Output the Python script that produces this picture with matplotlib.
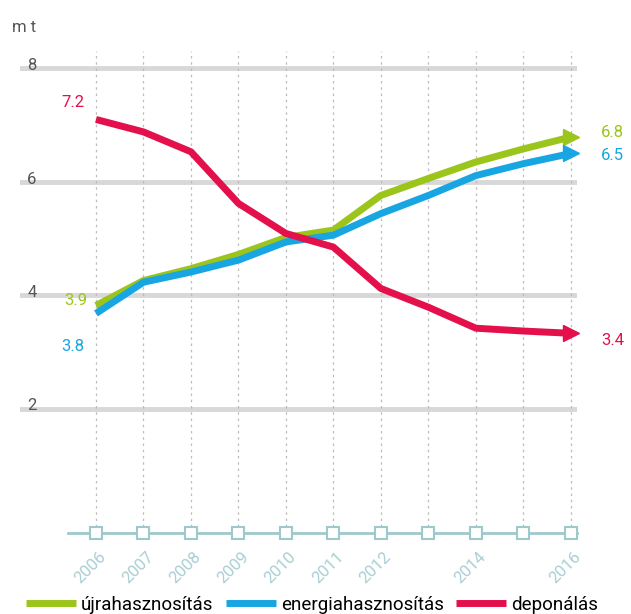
import numpy as np
import matplotlib.pyplot as plt

plt.rcParams['font.family'] = ['Roboto', 'DejaVu Sans']

years = [2006, 2007, 2008, 2009, 2010, 2011, 2012, 2013, 2014, 2015, 2016]
ujra = [3.82, 4.26, 4.47, 4.72, 5.02, 5.15, 5.76, 6.06, 6.35, 6.58, 6.79]
energia = [3.68, 4.23, 4.41, 4.62, 4.94, 5.06, 5.44, 5.76, 6.11, 6.32, 6.50]
deponalas = [7.10, 6.88, 6.53, 5.62, 5.09, 4.85, 4.12, 3.79, 3.42, 3.37, 3.33]

tick_years = [2006, 2007, 2008, 2009, 2010, 2011, 2012, 2014, 2016]
y_ticks = [2, 4, 6, 8]

green = '#9cc51c'
blue = '#17a6e2'
red = '#e4104c'
teal = '#9ec9cc'

fig = plt.figure(figsize=(6.31, 6.14), dpi=100)
ax = fig.add_axes([20 / 631, 81 / 614, 557 / 631, 493 / 614])
ax.set_xlim(2004.4, 2016.13)
ax.set_ylim(-0.19, 8.5)
ax.axis('off')

# horizontal grid + labels
for v in y_ticks:
    ax.axhline(v, color='#d8d8d8', lw=3.5, zorder=1)
    ax.text(2004.65, v - 0.03, str(v), color='#555555', fontsize=12, ha='center',
            va='baseline', zorder=2)

# dotted vertical lines
for yr in years:
    ax.plot([yr, yr], [-0.19, 8.3], color='#bdbdbd', lw=0.9, ls=(0, (2, 3)), zorder=1)

# x axis line with squares
ax.plot([2005.41, 2016.13], [-0.19, -0.19], color=teal, lw=2, clip_on=False, zorder=3)
ax.plot(years, [-0.19] * len(years), ls='none', marker='s', ms=8.5, mfc='white',
        mec=teal, mew=1.5, clip_on=False, zorder=4)
for yr in tick_years:
    ax.text(yr + 0.05, -0.48, str(yr), rotation=45, ha='right', va='top',
            color='#a9cfd3', fontsize=12, rotation_mode='anchor')

# data lines
for vals, col, name in [(ujra, green, 'újrahasznosítás'),
                        (energia, blue, 'energiahasznosítás'),
                        (deponalas, red, 'deponálás')]:
    ax.plot(years, vals, color=col, lw=5, solid_capstyle='butt', zorder=5, label=name)
    ax.plot([years[-1]], [vals[-1]], marker='>', ms=11, color=col, clip_on=False, zorder=6)

# value labels
ax.text(2005.52, 7.4, '7.2', color=red, fontsize=12, ha='center', va='center')
ax.text(2005.58, 3.91, '3.9', color=green, fontsize=12, ha='center', va='center')
ax.text(2005.52, 3.1, '3.8', color=blue, fontsize=12, ha='center', va='center')
ax.text(2016.88, 6.87, '6.8', color=green, fontsize=12, ha='center', va='center', clip_on=False)
ax.text(2016.88, 6.47, '6.5', color=blue, fontsize=12, ha='center', va='center', clip_on=False)
ax.text(2016.88, 3.2, '3.4', color=red, fontsize=12, ha='center', va='center', clip_on=False)

fig.text(12 / 631, 1 - 27 / 614, 'm t', color='#555555', fontsize=12, va='center')

leg = fig.legend(loc='center left', bbox_to_anchor=(26 / 631, 1 - 605 / 614), ncol=3,
                 frameon=False, fontsize=13.5, handlelength=2.67, handletextpad=0.27,
                 columnspacing=0.64, borderpad=0, borderaxespad=0)
for h in leg.legend_handles:
    h.set_linewidth(5)

fig.savefig('out.png', dpi=100)
